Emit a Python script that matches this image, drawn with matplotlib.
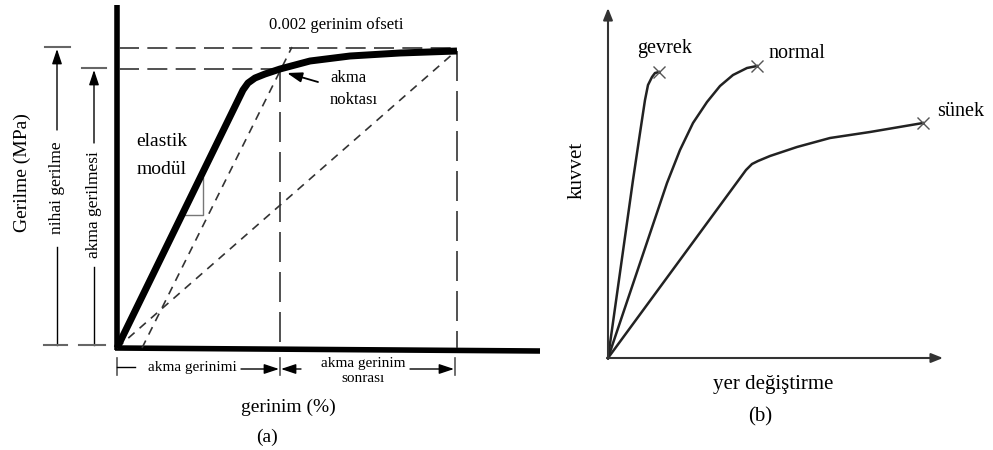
import matplotlib.pyplot as plt

plt.rcParams['font.family'] = ['Liberation Serif', 'DejaVu Serif']

# (a) stress-strain sketch, units are arbitrary (origin = bottom left corner)
strain = [0, 126, 131, 138, 148, 163, 193, 233, 283, 340]
stress = [0, 258, 265, 270, 274, 279, 287, 292, 295, 297]
yield_strain, yield_stress = 163, 279
ult_strain, ult_stress = 340, 300
offset_x = [25, 175]
offset_y = [0, 301]
secant_x = [0, 338]
secant_y = [0, 296]

# (b) force-displacement curves
gevrek_x = [0, 25, 32, 37, 40, 44, 47, 51]
gevrek_y = [0, 178, 225, 258, 273, 281, 285, 286]
normal_x = [0, 59, 72, 85, 99, 112, 125, 139, 149]
normal_y = [0, 175, 208, 235, 256, 272, 283, 290, 292]
sunek_x = [0, 138, 144, 150, 162, 189, 222, 262, 315]
sunek_y = [0, 188, 194, 197, 202, 211, 220, 226, 235]

fig = plt.figure(figsize=(9.93, 4.5), dpi=100)

# ---------------- panel (a) ----------------
ax = fig.add_axes([0, 0, 560 / 993, 1])
ax.set_xlim(-117, 443)
ax.set_ylim(-102, 348)
ax.axis('off')

dk = '#333333'
# axes
ax.plot([0, 0], [-2, 343], color='k', lw=4, solid_capstyle='butt', clip_on=False)
ax.plot([-2, 423], [0, -3], color='k', lw=4, solid_capstyle='butt', clip_on=False)

# guide lines
ax.plot([2, ult_strain], [ult_stress, ult_stress], color=dk, lw=1.2, dashes=(12, 5))
ax.plot([2, yield_strain], [yield_stress, yield_stress], color=dk, lw=1.2, dashes=(12, 5))
ax.plot([yield_strain, yield_strain], [yield_stress - 3, 0], color=dk, lw=1.2, dashes=(18, 6))
ax.plot([ult_strain, ult_strain], [stress[-1], 0], color=dk, lw=1.2, dashes=(18, 6))
ax.plot(offset_x, offset_y, color=dk, lw=1.2, dashes=(5, 4))
ax.plot(secant_x, secant_y, color=dk, lw=1.2, dashes=(5, 4))

# slope triangle
ax.plot([65, 86, 86], [133, 133, 170], color='#777777', lw=1)

# main curve
ax.plot(strain, stress, color='k', lw=5, solid_capstyle='butt', solid_joinstyle='round')

ax.text(45, 206, 'elastik', fontsize=14, ha='center', va='center')
ax.text(45, 178, 'modül', fontsize=14, ha='center', va='center')
ax.text(219, 323, '0.002 gerinim ofseti', fontsize=12, ha='center', va='center')
ax.text(213, 270, 'akma', fontsize=12, ha='left', va='center')
ax.text(213, 248, 'noktası', fontsize=12, ha='left', va='center')
ax.annotate('', xy=(170, 275), xytext=(201, 266),
            arrowprops=dict(arrowstyle='-|>,head_length=0.6,head_width=0.2',
                            mutation_scale=15, lw=1.3, color='k', shrinkA=0, shrinkB=0))

arr = dict(arrowstyle='-|>,head_length=0.6,head_width=0.2', mutation_scale=15,
           lw=1, color='k', shrinkA=0, shrinkB=0)

# left dimension lines
ax.plot([-60, -60], [3, 101], color='k', lw=1)
ax.annotate('', xy=(-60, 299), xytext=(-60, 218), arrowprops=arr)
ax.plot([-72, -47], [301, 301], color='#666666', lw=1.5)
ax.plot([-73, -50], [3, 3], color='#666666', lw=1.5)
ax.text(-60, 160, 'nihai gerilme', fontsize=12.5, rotation=90, ha='center', va='center')

ax.plot([-23, -23], [3, 81], color='k', lw=1)
ax.annotate('', xy=(-23, 278), xytext=(-23, 205), arrowprops=arr)
ax.plot([-35, -11], [280, 280], color='#666666', lw=1.5)
ax.plot([-38, -12], [3, 3], color='#666666', lw=1.5)
ax.text(-23, 143, 'akma gerilmesi', fontsize=12.5, rotation=90, ha='center', va='center')

ax.text(-95, 175, 'Gerilme (MPa)', fontsize=14, rotation=90, ha='center', va='center')

# bottom dimension lines
for xt in [0, yield_strain, ult_strain - 2]:
    ax.plot([xt, xt], [-10, -27], color='#555555', lw=1.2)
ax.plot([0, 18], [-19, -19], color='k', lw=1)
ax.text(75, -19, 'akma gerinimi', fontsize=11, ha='center', va='center')
ax.annotate('', xy=(yield_strain - 1, -21), xytext=(124, -21), arrowprops=arr)
ax.annotate('', xy=(yield_strain + 1, -21), xytext=(184, -21), arrowprops=arr)
ax.text(246, -16, 'akma gerinim', fontsize=11, ha='center', va='center')
ax.text(246, -31, 'sonrası', fontsize=11, ha='center', va='center')
ax.annotate('', xy=(ult_strain - 3, -21), xytext=(293, -21), arrowprops=arr)

ax.text(171, -59, 'gerinim (%)', fontsize=14, ha='center', va='center')
ax.text(150, -89, '(a)', fontsize=14, ha='center', va='center')

# ---------------- panel (b) ----------------
bx = fig.add_axes([560 / 993, 0, 433 / 993, 1])
bx.set_xlim(-48, 385)
bx.set_ylim(-92, 358)
bx.axis('off')

ax_arr = dict(arrowstyle='-|>,head_length=0.5,head_width=0.2', mutation_scale=14,
              lw=1.5, color='#333333', shrinkA=0, shrinkB=0)
bx.annotate('', xy=(0, 350), xytext=(0, -1), arrowprops=ax_arr)
bx.annotate('', xy=(335, 0), xytext=(-1, 0), arrowprops=ax_arr)

for xs, ys in [(gevrek_x, gevrek_y), (normal_x, normal_y), (sunek_x, sunek_y)]:
    bx.plot(xs, ys, color='#222222', lw=1.8, solid_joinstyle='round')
    bx.plot(xs[-1], ys[-1], marker='x', ms=8, mew=1, color='#555555')

bx.text(57, 310, 'gevrek', fontsize=14.5, ha='center', va='center')
bx.text(189, 305, 'normal', fontsize=14.5, ha='center', va='center')
bx.text(353, 246, 'sünek', fontsize=14.5, ha='center', va='center')
bx.text(-31, 188, 'kuvvet', fontsize=15, rotation=90, ha='center', va='center')
bx.text(165, -27, 'yer değiştirme', fontsize=15, ha='center', va='center')
bx.text(152, -59, '(b)', fontsize=15, ha='center', va='center')

fig.savefig('out.png', dpi=100, facecolor='white')
